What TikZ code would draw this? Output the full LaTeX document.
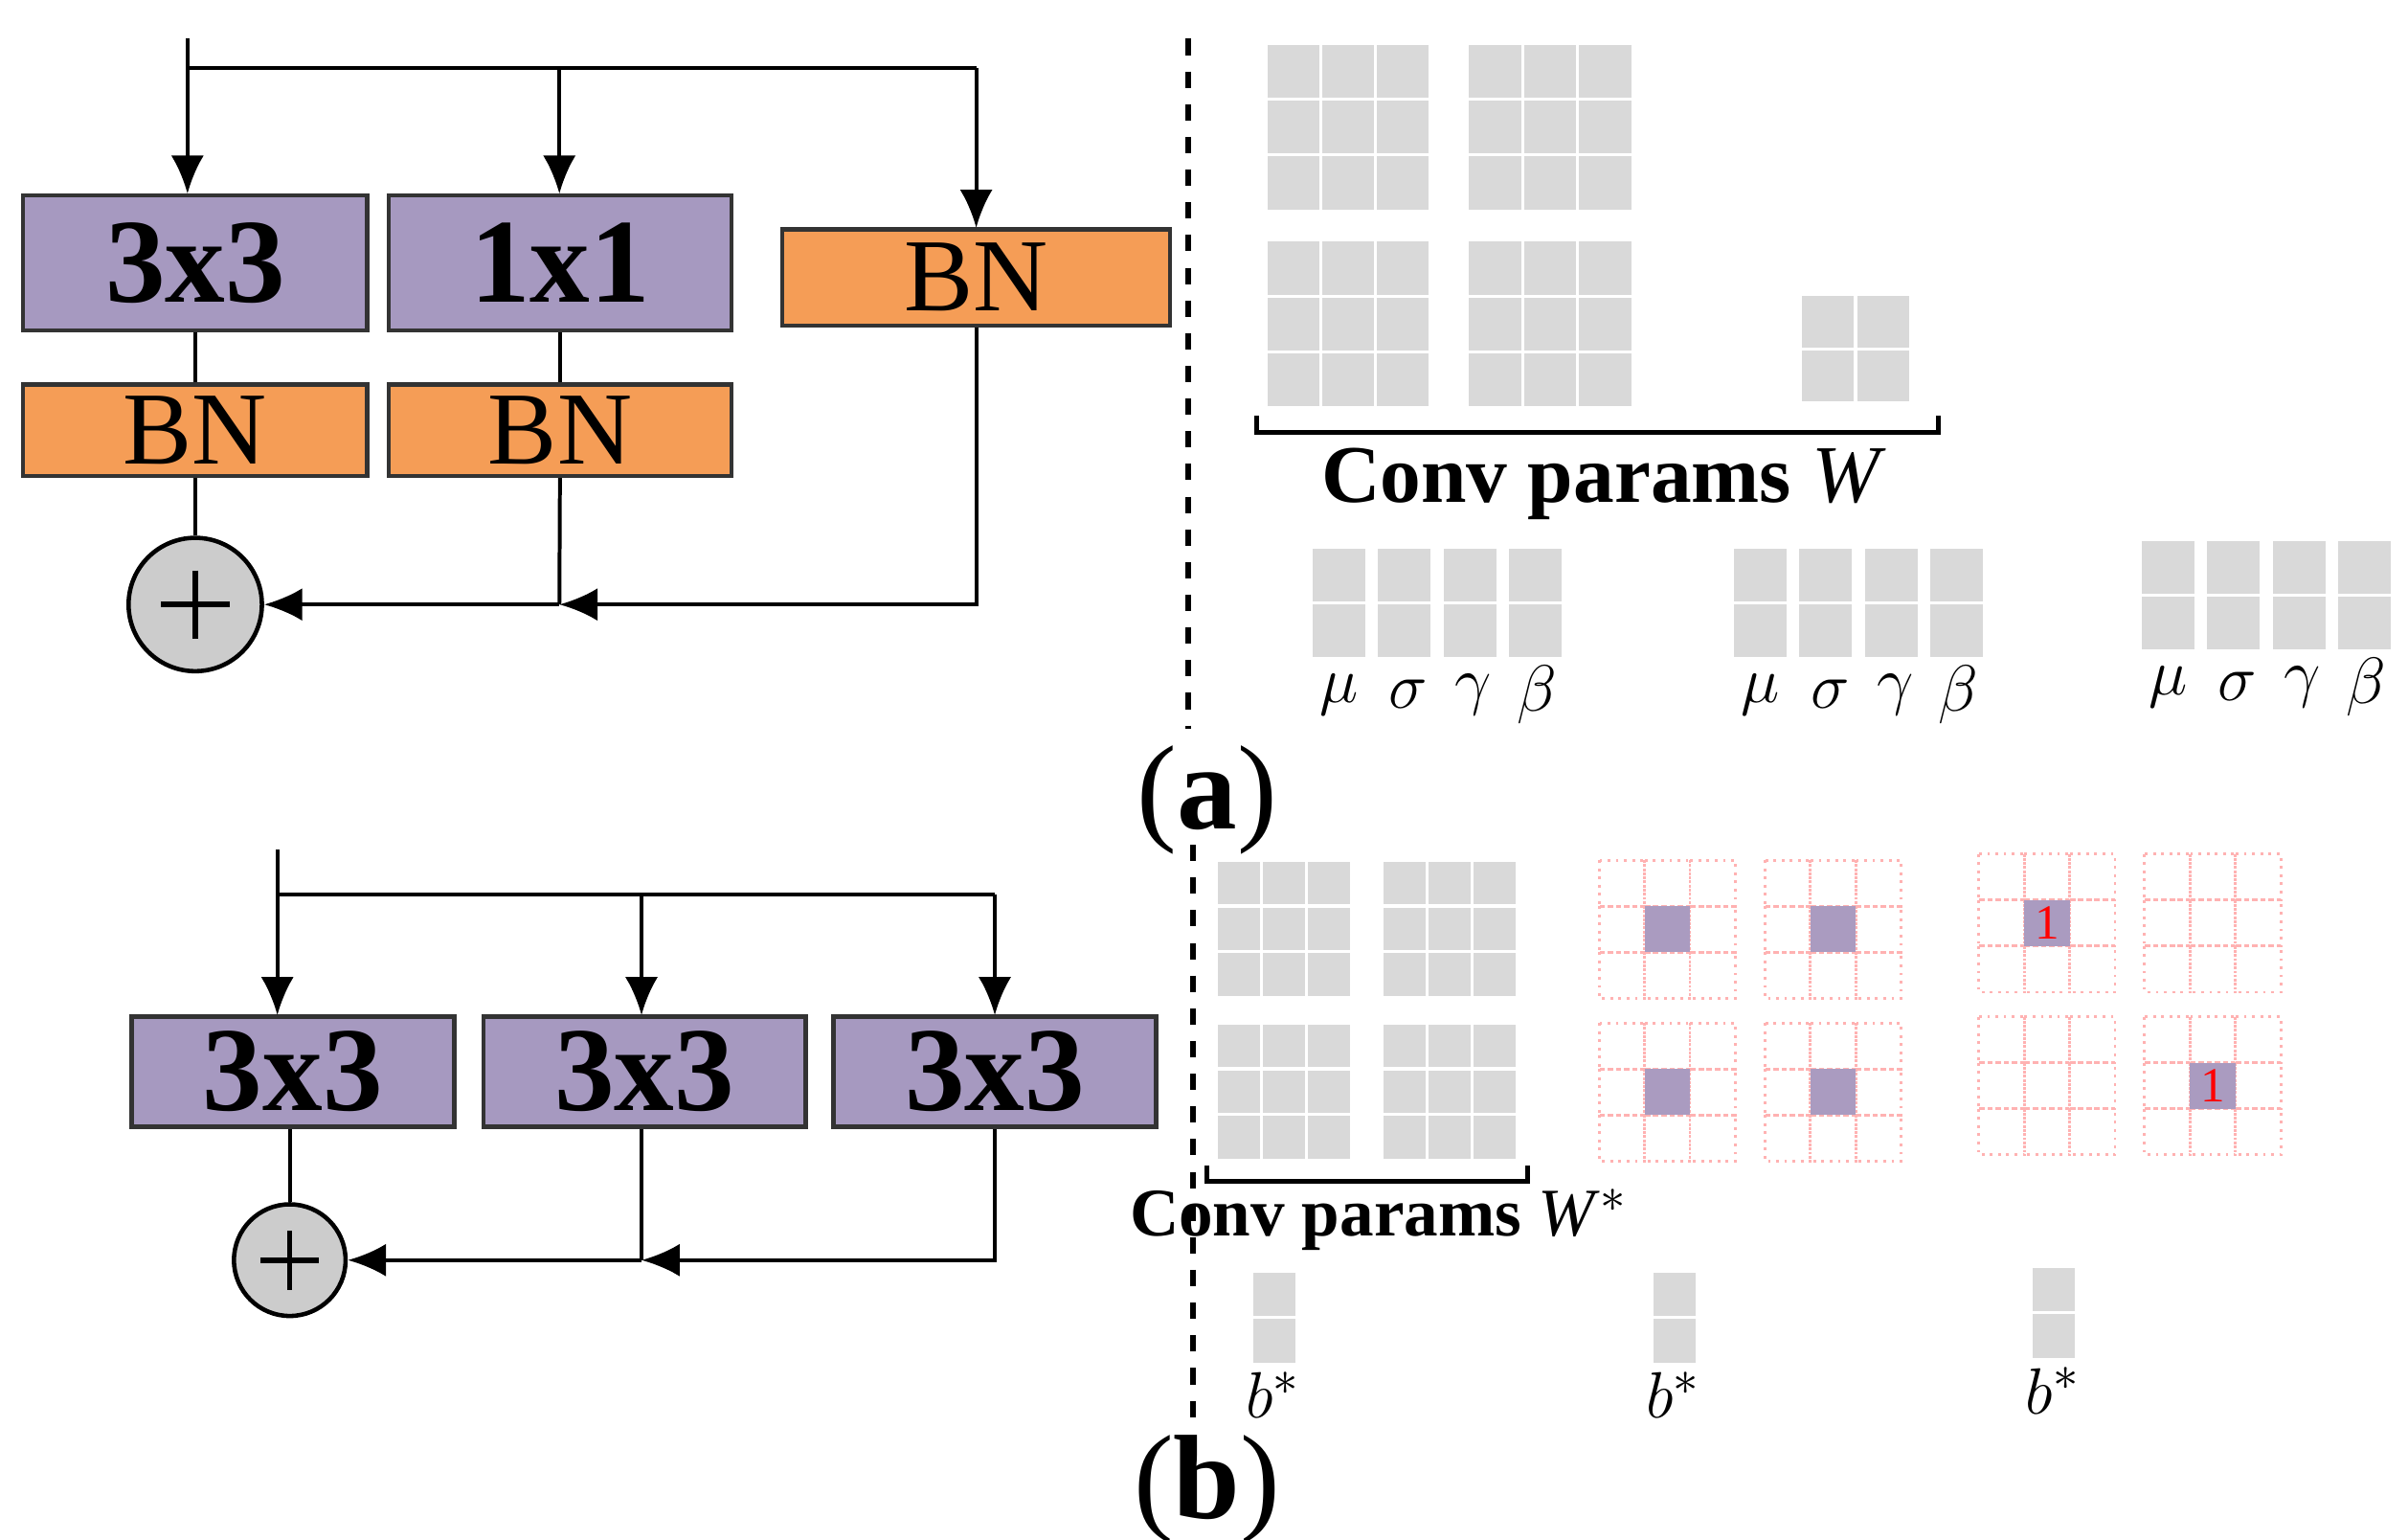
\documentclass[tikz,border=0pt]{standalone}
\usepackage{fontspec}
\setmainfont{Liberation Serif}
\usetikzlibrary{arrows.meta}
\definecolor{convc}{RGB}{166,153,192}
\definecolor{bnc}{RGB}{245,157,86}
\definecolor{cellp}{RGB}{170,155,192}
\newcommand{\gridg}[6]{% x y cols rows cw ch
  \foreach \i in {1,...,#3}{\foreach \j in {1,...,#4}{
    \fill[black!15] ({#1+(\i-1)*#5+1},{#2+(\j-1)*#6+1}) rectangle ({#1+\i*#5-1},{#2+\j*#6-1});}}}
\newcommand{\gridd}[4]{% x y fill(0/1) text
  \foreach \i in {0,1,2}{\foreach \j in {0,1,2}{
    \draw[red!30,densely dotted,line width=0.5pt] ({#1+\i*29.3},{#2+\j*29.7}) rectangle ({#1+(\i+1)*29.3},{#2+(\j+1)*29.7});}}
  \ifnum#3=1
  \fill[cellp] ({#1+29.3},{#2+29.7}) rectangle ({#1+58.6},{#2+59.4});
  \node[red,font=\fontsize{9}{9}\selectfont] at ({#1+44},{#2+44.5}) {#4};
  \fi}
\begin{document}
\begin{tikzpicture}[x=0.01cm,y=-0.01cm,
  conv/.style={draw=black!80,fill=convc,line width=0.8pt,inner sep=0,font=\fontsize{22}{22}\selectfont\bfseries},
  bn/.style={draw=black!80,fill=bnc,line width=0.8pt,inner sep=0,font=\fontsize{19}{19}\selectfont},
  add/.style={circle,draw=black,fill=black!20,line width=0.8pt,minimum size=#1,inner sep=0},
  ln/.style={line width=0.7pt},
  arr/.style={ln,-{Latex[length=7pt,width=6pt]}},
  gl/.style={font=\fontsize{13}{13}\selectfont\itshape}]
\useasboundingbox (0,0) rectangle (1554,993);
% ---------- (a) left ----------
\node[conv,minimum width=2.22cm,minimum height=0.87cm] (c3) at (126,169.5) {3x3};
\node[conv,minimum width=2.21cm,minimum height=0.87cm] (c1) at (361.5,169.5) {1x1};
\node[bn,minimum width=2.50cm,minimum height=0.62cm] (bnr) at (630,179) {BN};
\node[bn,minimum width=2.22cm,minimum height=0.59cm] (bn1) at (126,277.5) {BN};
\node[bn,minimum width=2.21cm,minimum height=0.59cm] (bn2) at (361.5,277.5) {BN};
\node[add=0.86cm] (s1) at (126,390) {};
\draw[line width=1pt] (s1.center)++(-22,0) -- ++(44,0) (s1.center)++(0,-22) -- ++(0,44);
\coordinate (ia) at (121,25);
\coordinate (ja) at (361,390);
\draw[ln] (ia) -- (121,44) -- (630,44);
\draw[arr] (121,44) -- (121,125);
\draw[arr] (361,44) -- (361,125);
\draw[arr] (630,44) -- (630,147);
\draw[ln] (c3) -- (bn1); \draw[ln] (c1) -- (bn2);
\draw[ln] (bn1) -- (s1);
\draw[ln] (bn2) -- (ja);
\draw[arr] (bnr.south) -- (630,390) -- (ja);
\draw[arr] (ja) -- (s1.east);
\draw[dashed,line width=1pt] (767,25) -- (767,470);
\node[font=\fontsize{22}{22}\selectfont] (la) at (779,516) {(\textbf{a})};
% ---------- (a) right ----------
\gridg{817}{28}{3}{3}{35.3}{36}
\gridg{947}{28}{3}{3}{35.6}{36}
\gridg{817}{155}{3}{3}{35.3}{36}
\gridg{947}{155}{3}{3}{35.6}{36}
\gridg{1162}{190}{2}{2}{35.5}{35}
\draw[line width=0.8pt] (811,268) -- (811,279) -- (1251,279) -- (1251,268);
\node[font=\fontsize{15}{15}\selectfont] (cpw) at (1035,312) {\textbf{Conv params} \textit{W}};
\foreach \gx/\gy in {846/353,1118/353,1381/348}{
  \foreach \k in {0,1,2,3}{
    \gridg{\gx+\k*42.3}{\gy}{1}{2}{36}{36}
  }
  \node[gl] at (\gx+18,\gy+95) {$\mu$};
  \node[gl] at (\gx+63,\gy+95) {$\sigma$};
  \node[gl] at (\gx+105,\gy+95) {$\gamma$};
  \node[gl] at (\gx+146,\gy+95) {$\beta$};
}
% ---------- (b) left ----------
\node[conv,minimum width=2.08cm,minimum height=0.71cm] (d1) at (189,691.5) {3x3};
\node[conv,minimum width=2.08cm,minimum height=0.71cm] (d2) at (416,691.5) {3x3};
\node[conv,minimum width=2.08cm,minimum height=0.71cm] (d3) at (642,691.5) {3x3};
\node[add=0.72cm] (s2) at (187,813) {};
\draw[line width=1pt] (s2.center)++(-19,0) -- ++(38,0) (s2.center)++(0,-19) -- ++(0,38);
\coordinate (ib) at (179,548);
\coordinate (jb) at (414,813);
\draw[ln] (ib) -- (179,577) -- (642,577);
\draw[arr] (179,577) -- (179,655);
\draw[arr] (414,577) -- (414,655);
\draw[arr] (642,577) -- (642,655);
\draw[ln] (d1.south -| s2.north) -- (s2.north);
\draw[ln] (d2.south -| jb) -- (jb);
\draw[arr] (d3.south) -- (642,813) -- (jb);
\draw[arr] (jb) -- (s2.east);
\draw[dashed,line width=1pt] (770,545) -- (770,915);
\node[font=\fontsize{22}{22}\selectfont] (lb) at (779,961) {(\textbf{b})};
% ---------- (b) right ----------
\gridg{785}{555}{3}{3}{29}{29.5}
\gridg{892}{555}{3}{3}{29}{29.5}
\gridg{785}{660}{3}{3}{29}{29.5}
\gridg{892}{660}{3}{3}{29}{29.5}
\draw[line width=0.8pt] (779,752) -- (779,762) -- (986,762) -- (986,752);
\node[font=\fontsize{12.5}{12.5}\selectfont] (cpw2) at (890,787) {\textbf{Conv params} \textit{W}$^{*}$};
\gridd{1032}{555}{1}{}
\gridd{1139}{555}{1}{}
\gridd{1032}{660}{1}{}
\gridd{1139}{660}{1}{}
\gridd{1277}{551}{1}{1}
\gridd{1384}{551}{0}{}
\gridd{1277}{656}{0}{}
\gridd{1384}{656}{1}{1}
\foreach \bx/\by in {808/820,1066/820,1311/817}{
  \gridg{\bx}{\by}{1}{2}{29}{30}
  \node[gl] at (\bx+14,\by+80) {$b^{*}$};
}
\end{tikzpicture}
\end{document}
